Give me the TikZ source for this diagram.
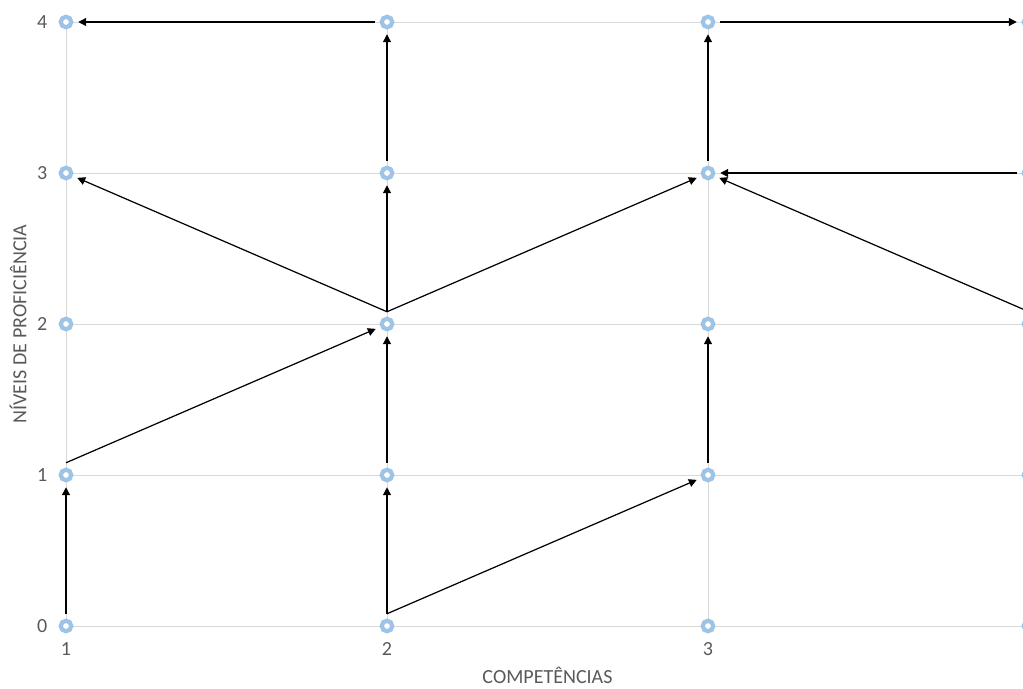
\documentclass[tikz,border=0pt]{standalone}
\usepackage{fontspec}
\setmainfont{Carlito}
\usetikzlibrary{positioning, arrows.meta}

\definecolor{ringblue}{HTML}{9DC3E6}
\definecolor{gridgray}{HTML}{D9D9D9}
\definecolor{labelgray}{HTML}{595959}

\tikzset{
    marker/.style={
        draw=ringblue,
        circle,
        fill=white,
        line width=2.4pt,
        minimum size=0.21cm,
        inner sep=0pt,
        outer sep=0.14cm
    },
    arr/.style={
        draw=black,
        line width=0.7pt,
        -{Triangle[length=4.5pt,width=4.5pt]}
    },
    ticklab/.style={
        text=labelgray,
        font=\fontsize{11.4}{13}\selectfont,
        inner sep=0pt
    }
}

\begin{document}
\begin{tikzpicture}[x=6.42cm, y=3.02cm]
    \clip (-0.2056,-0.4106) rectangle (2.9813,4.1457);

    % grid
    \foreach \j in {0,...,4}
        \draw[gridgray, line width=0.5pt] (0,\j) -- (3.2,\j);
    \foreach \i in {0,...,3}
        \draw[gridgray, line width=0.5pt] (\i,0) -- (\i,4);

    % markers
    \foreach \i in {1,...,4}
        \foreach \j in {0,...,4}
            \node[marker] (p\i\j) at (\i-1,\j) {};

    % tick labels
    \foreach \j in {0,...,4}
        \node[ticklab, left=0.12cm of p1\j] (y\j) {\j};
    \foreach \i in {1,...,3}
        \node[ticklab, below=0.08cm of p\i0] (x\i) {\i};

    % axis titles
    \node[ticklab] (xtitle) at (1.5,-0.328) {COMPETÊNCIAS};
    \node[ticklab, rotate=90] (ytitle) at (-0.1495,2) {NÍVEIS DE PROFICIÊNCIA};

    % vertical steps
    \draw[arr] (p10) -- (p11);
    \draw[arr] (p20) -- (p21);
    \draw[arr] (p21) -- (p22);
    \draw[arr] (p31) -- (p32);
    \draw[arr] (p22.north) -- (p23);
    \draw[arr] (p23) -- (p24);
    \draw[arr] (p33) -- (p34);

    % diagonal steps
    \draw[arr] (p11.north) -- (p22);
    \draw[arr] (p20.north) -- (p31);
    \draw[arr] (p22.north) -- (p13);
    \draw[arr] (p22.north) -- (p33);
    \draw[arr] (p42.north) -- (p33);

    % horizontal steps
    \draw[arr] (p24) -- (p14);
    \draw[arr] (p34) -- (p44);
    \draw[arr] (p43) -- (p33);
\end{tikzpicture}
\end{document}
